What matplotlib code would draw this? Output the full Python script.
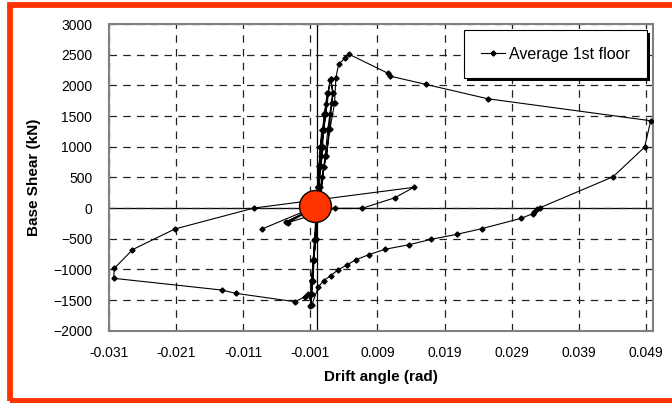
import numpy as np
import matplotlib.pyplot as plt
from matplotlib.patches import Rectangle
import matplotlib.patheffects as pe


plt.rcParams['font.family'] = ['Liberation Sans', 'DejaVu Sans']

# drift angle (rad) and base shear (kN)
drift = [
    # small cycles near the origin
    0.0, 0.0001, 0.0003, 0.0005, 0.0007, 0.0009, 0.0006, 0.0003, 0.0,
    -0.0003, -0.0005, -0.0007, -0.0005, -0.0002, 0.0,
    0.0002, 0.0004, 0.0006, 0.0009, 0.0011, 0.0015, 0.0014, 0.0010, 0.0006, 0.0002,
    -0.0002, -0.0005, -0.0008, -0.0009, -0.0006, -0.0003, 0.0,
    0.0001, 0.0003, 0.0005, 0.0008, 0.0011, 0.0016, 0.0020, 0.0024, 0.0022,
    0.0018, 0.0014, 0.0010, 0.0004,
    -0.0003, -0.0006, -0.0008, -0.0009, -0.0010, -0.0007, -0.0004, -0.0001,
    0.0002, 0.0004, 0.0007, 0.0010, 0.0013, 0.0017, 0.0019, 0.0021, 0.0023,
    0.0019, 0.0016, 0.0012, 0.0008, 0.0003,
    -0.0003, -0.0006, -0.0008, -0.0009, -0.0008, -0.0005, -0.0001,
    # large excursion
    0.0005, 0.0010, 0.0014, 0.0019, 0.0026, 0.0028, 0.0032, 0.0041, 0.0048,
    0.0106, 0.0108, 0.0162, 0.0254, 0.0497, 0.0488, 0.0441, 0.0332,
    0.0327, 0.0323, 0.0321, 0.0304, 0.0245, 0.0208, 0.0170, 0.0137,
    0.0101, 0.0077, 0.0058, 0.0044, 0.0031, 0.0020, 0.0010, 0.0002,
    -0.0008, -0.0013, -0.0018, -0.0033, -0.0121, -0.0142, -0.0303,
    -0.0302, -0.0275, -0.0212, -0.0094, 0.0144, 0.0116, 0.0067, 0.0026,
    -0.0044, 0.0008, -0.0046, 0.0010, -0.0082,
]
shear = [
    0, 350, 690, 1000, 1280, 1000, 690, 350, 0,
    -500, -850, -1190, -850, -500, 0,
    350, 690, 1000, 1280, 1530, 1870, 1700, 1280, 850, 350,
    -500, -850, -1190, -1400, -1190, -500, 0,
    350, 690, 1000, 1280, 1530, 1870, 2100, 1870, 1707,
    1283, 848, 673, 0,
    -520, -850, -1185, -1400, -1597, -1180, -520, 0,
    350, 690, 1000, 1280, 1530, 1870, 2080, 2110, 1870,
    1530, 1283, 848, 500, 0,
    -520, -850, -1185, -1581, -1400, -850, -200,
    347, 673, 848, 1283, 1707, 2124, 2342, 2440, 2505,
    2195, 2152, 2016, 1782, 1423, 994, 510, 5,
    -21, -65, -93, -168, -337, -429, -510, -598,
    -673, -761, -843, -929, -1011, -1103, -1185, -1283,
    -1581, -1407, -1445, -1527, -1391, -1337, -1146,
    -983, -679, -342, 0, 337, 168, -5, -5,
    -240, 60, -225, 80, -342,
]

xticks = [-0.031, -0.021, -0.011, -0.001, 0.009, 0.019, 0.029, 0.039, 0.049]
yticks = [-2000, -1500, -1000, -500, 0, 500, 1000, 1500, 2000, 2500, 3000]

origin_x = [-0.0003]
origin_y = [40]


fig = plt.figure(figsize=(6.72, 4.03), dpi=100)
ax = fig.add_axes([0.1622, 0.1794, 0.8091, 0.7610])

ax.set_xlim(-0.031, 0.050)
ax.set_ylim(-2000, 3000)
ax.set_xticks(xticks)
ax.set_yticks(yticks)
ax.set_xticklabels(['%.3f' % t for t in xticks])
ax.tick_params(length=0, labelsize=10, colors='black')
ax.tick_params(axis='y', pad=12)
ax.tick_params(axis='x', pad=11)

ax.grid(True, color='#222222', linestyle=(0, (6, 5)), linewidth=0.9)
ax.axhline(0, color='black', linewidth=0.9, zorder=1)
ax.axvline(0, color='black', linewidth=0.9, zorder=1)
for s in ax.spines.values():
    s.set_color('#808080')
    s.set_linewidth(1.5)

ax.plot(drift, shear, color='black', linewidth=0.8, marker='D',
        markersize=2.6, label='Average 1st floor', zorder=3)
ax.plot(origin_x, origin_y, linestyle='none', marker='o', markersize=23,
        markerfacecolor='#FF3300', markeredgecolor='black',
        markeredgewidth=1.0, zorder=4)

ax.set_xlabel('Drift angle (rad)', fontsize=11, fontweight='bold', labelpad=7)
ax.set_ylabel('Base Shear (kN)', fontsize=11, fontweight='bold', labelpad=9)

leg = ax.legend(loc='upper right', bbox_to_anchor=(0.989, 0.981),
                fontsize=11.5, fancybox=False, shadow=False,
                handlelength=1.5, handletextpad=0.25, borderpad=1.05,
                borderaxespad=0, framealpha=1)
leg.get_frame().set_edgecolor('black')
leg.get_frame().set_linewidth(0.8)
leg.get_frame().set_path_effects([pe.SimplePatchShadow(offset=(2, -2), shadow_rgbFace='black', alpha=1), pe.Normal()])

# orange frame round the whole chart
fig.patches.append(Rectangle((9.5 / 672, 2.5 / 403), 1.0, 395.5 / 403,
                             transform=fig.transFigure, fill=False,
                             edgecolor='#FF3300', linewidth=4.2))

fig.savefig('out.png', dpi=100)
